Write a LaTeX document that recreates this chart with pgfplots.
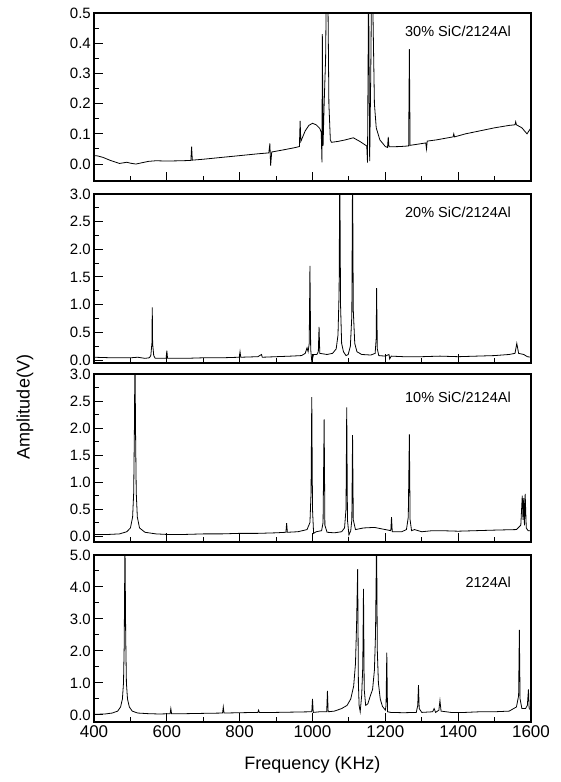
\documentclass[border=0pt]{standalone}
\usepackage{fontspec}
\setmainfont{Liberation Sans}
\usepackage{pgfplots}
\pgfplotsset{compat=1.18}

\pgfplotsset{
  panel/.style={
    scale only axis,
    width=437pt,
    xmin=400, xmax=1600,
    xtick={400,600,...,1600},
    minor x tick num=1,
    tick align=inside,
    tick pos=left,
    major tick length=9pt,
    minor tick length=5pt,
    axis line style={line width=1.6pt},
    every tick/.style={black, line width=1pt},
    tick label style={font=\fontsize{17}{18}\selectfont},
    /pgf/number format/assume math mode=true,
    /pgf/number format/1000 sep={},
    yticklabel style={font=\fontsize{15}{15}\selectfont, inner xsep=1pt, inner ysep=0pt, xshift=-2pt,
      /pgf/number format/fixed, /pgf/number format/fixed zerofill, /pgf/number format/precision=1},
    minor y tick num=1,
    anchor=south west,
  },
  spec/.style={black, line width=0.8pt, mark=none},
}
\tikzset{tag/.style={anchor=east, font=\fontsize{14.5}{16}\selectfont, inner sep=0pt}}

\begin{document}
\begin{tikzpicture}
\path[use as bounding box] (0,0) rectangle (560pt,782pt);

% 30% SiC/2124Al
\begin{axis}[panel, at={(94pt,601pt)}, height=168pt,
  ymin=-0.056, ymax=0.5, ytick={0,0.1,0.2,0.3,0.4,0.5}, xticklabels={}]
\addplot[spec] coordinates {
(400,0.028) (410,0.027) (425,0.022) (445,0.012) (470,0.002) (480,0.004) (490,0.006)
(500,0.003) (515,0.0) (530,0.004) (550,0.009) (570,0.011) (600,0.01) (640,0.011)
(666,0.012) (668,0.058) (670,0.013) (700,0.016) (750,0.022) (800,0.028) (850,0.034)
(880,0.037) (883,0.068) (885,-0.005) (888,0.04) (920,0.047) (950,0.054) (964,0.058)
(966,0.143) (968,0.075) (980,0.11) (990,0.128) (1000,0.135) (1010,0.13) (1020,0.118)
(1024,0.105) (1026,0.006) (1027,0.43) (1029,0.06) (1032,0.2) (1036,0.35) (1039,0.7)
(1042,0.6) (1045,0.2) (1049,0.08) (1052,0.072) (1070,0.075) (1090,0.08) (1112,0.087)
(1130,0.075) (1145,0.063) (1149,0.06) (1151,0.005) (1154,0.6) (1157,0.01) (1160,0.3)
(1163,0.7) (1166,0.5) (1170,0.2) (1175,0.12) (1185,0.08) (1200,0.058) (1206,0.055)
(1208,0.09) (1210,0.057) (1240,0.058) (1264,0.06) (1266,0.38) (1268,0.062) (1290,0.066)
(1311,0.07) (1313,0.05) (1315,0.076) (1340,0.08) (1386,0.09) (1388,0.1) (1390,0.09)
(1420,0.1) (1460,0.11) (1500,0.12) (1540,0.128) (1556,0.13) (1558,0.14) (1560,0.13)
(1575,0.12) (1589,0.1) (1600,0.12)
};
\node[tag] at (axis cs:1545,0.44) {30\% SiC/2124Al};
\end{axis}

% 20% SiC/2124Al
\begin{axis}[panel, at={(94pt,419pt)}, height=169pt,
  ymin=-0.054, ymax=3, ytick={0,0.5,1,1.5,2,2.5,3}, xticklabels={}]
\addplot[spec] coordinates {
(400,0.05) (450,0.04) (500,0.04) (520,0.05) (540,0.03) (552,0.04) (556,0.08) (559,0.3)
(560,0.95) (561,0.3) (564,0.08) (568,0.03) (598,0.03) (600,0.17) (602,0.03) (650,0.03)
(700,0.04) (750,0.04) (799,0.05) (801,0.15) (803,0.05) (850,0.06) (860,0.1) (862,0.05)
(900,0.06) (940,0.07) (970,0.08) (980,0.12) (985,0.22) (988,0.15) (991,0.3) (993,1.7)
(995,0.2) (998,-0.03) (1003,0.1) (1012,0.1) (1016,0.15) (1018,0.6) (1020,0.12)
(1040,0.1) (1055,0.12) (1065,0.2) (1070,0.45) (1073,1.2) (1075,3.5) (1077,1.0)
(1080,0.3) (1085,0.15) (1092,0.08) (1098,0.1) (1104,0.25) (1108,0.8) (1110,3.5)
(1112,0.9) (1116,0.3) (1122,0.15) (1135,0.1) (1160,0.09) (1172,0.12) (1175,0.4)
(1176,1.3) (1178,0.2) (1182,0.08) (1200,0.07) (1210,0.1) (1212,0.02) (1216,0.07)
(1250,0.06) (1300,0.06) (1350,0.07) (1400,0.06) (1450,0.07) (1500,0.08) (1540,0.1)
(1556,0.12) (1561,0.3) (1566,0.12) (1580,0.1) (1590,0.06) (1600,0.05)
};
\node[tag] at (axis cs:1545,2.67) {20\% SiC/2124Al};
\end{axis}

% 10% SiC/2124Al
\begin{axis}[panel, at={(94pt,240pt)}, height=168pt,
  ymin=-0.11, ymax=3, ytick={0,0.5,1,1.5,2,2.5,3}, xticklabels={}]
\addplot[spec] coordinates {
(400,0.03) (440,0.03) (470,0.04) (490,0.08) (500,0.15) (506,0.35) (509,0.8) (511,2)
(512.5,3.5) (514,2) (516,0.8) (519,0.35) (525,0.15) (540,0.07) (570,0.04) (600,0.03)
(650,0.03) (700,0.04) (750,0.04) (800,0.05) (850,0.05) (900,0.06) (927,0.07) (929,0.24)
(931,0.07) (960,0.08) (985,0.12) (993,0.25) (996,0.8) (998,2.57) (1000,0.5) (1003,0.05)
(1010,0.08) (1025,0.1) (1029,0.25) (1032,2.16) (1034,0.2) (1040,0.07) (1060,0.06)
(1080,0.08) (1088,0.15) (1092,0.5) (1094,2.38) (1096,0.3) (1100,0.02) (1105,0.1)
(1108,0.3) (1110,1.87) (1112,0.3) (1118,0.12) (1140,0.15) (1170,0.16) (1200,0.12)
(1215,0.1) (1217,0.35) (1219,0.08) (1245,0.08) (1258,0.12) (1263,0.35) (1266,1.88)
(1268,0.3) (1272,0.1) (1280,0.12) (1300,0.08) (1330,0.1) (1350,0.1) (1400,0.09)
(1450,0.1) (1500,0.11) (1560,0.12) (1572,0.2) (1576,0.75) (1578,0.3) (1580,0.7)
(1582,0.2) (1584,0.78) (1587,0.15) (1592,0.1) (1600,0.1)
};
\node[tag] at (axis cs:1545,2.56) {10\% SiC/2124Al};
\end{axis}

% 2124Al
\begin{axis}[panel, at={(94pt,60pt)}, height=167pt,
  ymin=-0.22, ymax=5, ytick={0,1,2,3,4,5}]
\addplot[spec] coordinates {
(400,0.02) (430,0.03) (450,0.06) (465,0.12) (473,0.25) (478,0.5) (481,1.0) (483,2.2)
(485,5.5) (487,2.5) (489,1.0) (492,0.5) (497,0.25) (505,0.12) (520,0.06) (550,0.04)
(580,0.03) (609,0.04) (611,0.2) (613,0.04) (650,0.04) (700,0.05) (753,0.06) (755,0.25)
(757,0.06) (800,0.07) (850,0.08) (852,0.15) (854,0.08) (900,0.08) (950,0.09) (998,0.1)
(1000,0.5) (1002,0.08) (1020,0.1) (1039,0.1) (1041,0.75) (1043,0.1) (1060,0.12)
(1080,0.2) (1095,0.3) (1105,0.5) (1113,0.9) (1118,1.6) (1121,2.8) (1124,4.56) (1126,1.0)
(1128,0.3) (1131,0.1) (1135,0.6) (1138,1.5) (1140,3.94) (1142,0.8) (1146,0.3)
(1152,0.35) (1158,0.57) (1165,0.8) (1170,1.4) (1173,2.5) (1176,5.5) (1178,2.0)
(1181,1.0) (1186,0.5) (1192,0.27) (1200,0.15) (1202,0.3) (1204,1.95) (1206,0.1)
(1215,0.08) (1250,0.07) (1285,0.08) (1289,0.3) (1291,0.93) (1293,0.2) (1300,0.08)
(1330,0.1) (1334,0.2) (1338,0.08) (1347,0.15) (1350,0.45) (1353,0.12) (1380,0.08)
(1420,0.08) (1460,0.1) (1500,0.1) (1540,0.12) (1560,0.25) (1566,0.6) (1568,2.66)
(1570,0.5) (1575,0.2) (1585,0.2) (1590,0.3) (1593,0.8) (1595,0.2) (1600,0.15)
};
\node[tag] at (axis cs:1545,4.16) {2124Al};
\end{axis}

\node[rotate=90, font=\fontsize{18}{20}\selectfont] at (25pt,375pt) {Amplitude(V)};
\node[font=\fontsize{18}{20}\selectfont] at (312.5pt,17pt) {Frequency (KHz)};
\end{tikzpicture}
\end{document}
